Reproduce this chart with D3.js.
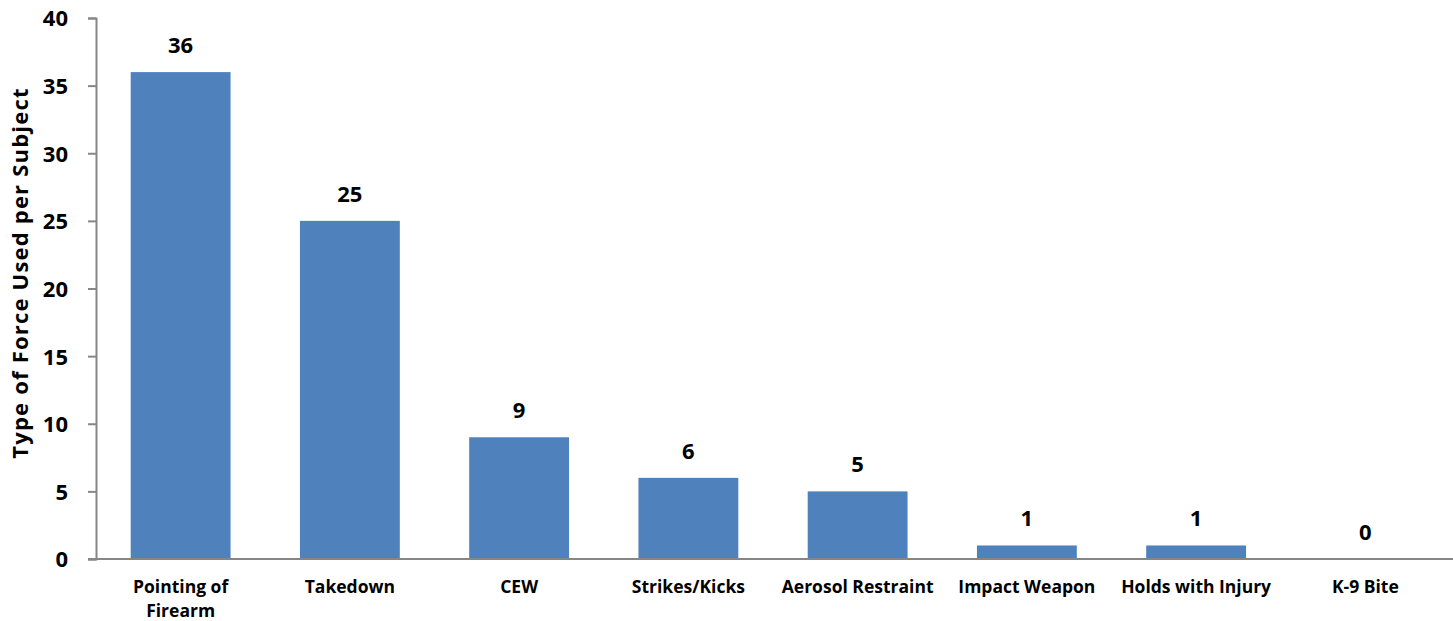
<!DOCTYPE html>
<html><head><meta charset="utf-8">
<script src="https://cdn.jsdelivr.net/npm/d3@7"></script>
<style>body{margin:0;background:#fff}text{font-family:"Open Sans",Lato,sans-serif;font-weight:bold;fill:#000}</style>
</head><body><svg id="c" width="1453" height="621"></svg>
<script>
const categories = ["Pointing of|Firearm","Takedown","CEW","Strikes/Kicks","Aerosol Restraint","Impact Weapon","Holds with Injury","K-9 Bite"];
const values = [36,25,9,6,5,1,1,0];
const yTicks = [0,5,10,15,20,25,30,35,40];
const yTitle = "Type of Force Used per Subject";

const svg = d3.select("#c");
const m = {l:96, t:18, r:3, b:62};
const W = 1453, H = 621;
const x = d3.scaleBand().domain(categories).range([m.l, 1450]).paddingInner(0.41).paddingOuter(0.205);
const y = d3.scaleLinear().domain([0,40]).range([559, 18]);

svg.selectAll("rect.bar").data(values).join("rect")
  .attr("x",(d,i)=>x(categories[i])).attr("width",x.bandwidth())
  .attr("y",d=>y(d)).attr("height",d=>y(0)-y(d)).attr("fill","#4F81BD");

const ya = svg.append("g").attr("transform",`translate(${m.l},0)`)
  .call(d3.axisLeft(y).tickValues(yTicks).tickSize(8).tickPadding(20));
ya.attr("font-size",null).attr("font-family",null);
ya.select(".domain").attr("stroke","#868686").attr("stroke-width",2);
ya.selectAll(".tick line").attr("stroke","#868686").attr("stroke-width",2);
ya.selectAll(".tick text").style("font-size","22px").attr("dy","0.36em");

const xa = svg.append("g").attr("transform",`translate(0,${y(0)})`)
  .call(d3.axisBottom(x).tickSize(0).tickFormat(""));
xa.select(".domain").attr("stroke","#868686").attr("stroke-width",2).attr("d",`M${m.l-8},0H${W}`);

svg.selectAll("text.cat").data(categories).join("text")
  .attr("class","cat").attr("text-anchor","middle").style("font-size","17.5px")
  .attr("x",d=>x(d)+x.bandwidth()/2).attr("y",593)
  .each(function(d){
    const parts=d.split("|");
    const cx=x(d)+x.bandwidth()/2;
    d3.select(this).selectAll("tspan").data(parts).join("tspan")
      .attr("x",cx).attr("dy",(p,i)=>i?24:0).text(p=>p);
  });

svg.selectAll("text.val").data(values).join("text")
  .attr("class","val").attr("text-anchor","middle").style("font-size","22px")
  .attr("x",(d,i)=>x(categories[i])+x.bandwidth()/2).attr("y",d=>y(d)-19).text(d=>d);

svg.append("text").attr("text-anchor","middle").style("font-size","22px").style("letter-spacing","1.2px")
  .attr("transform","translate(28,273) rotate(-90)").text(yTitle);
</script></body></html>
